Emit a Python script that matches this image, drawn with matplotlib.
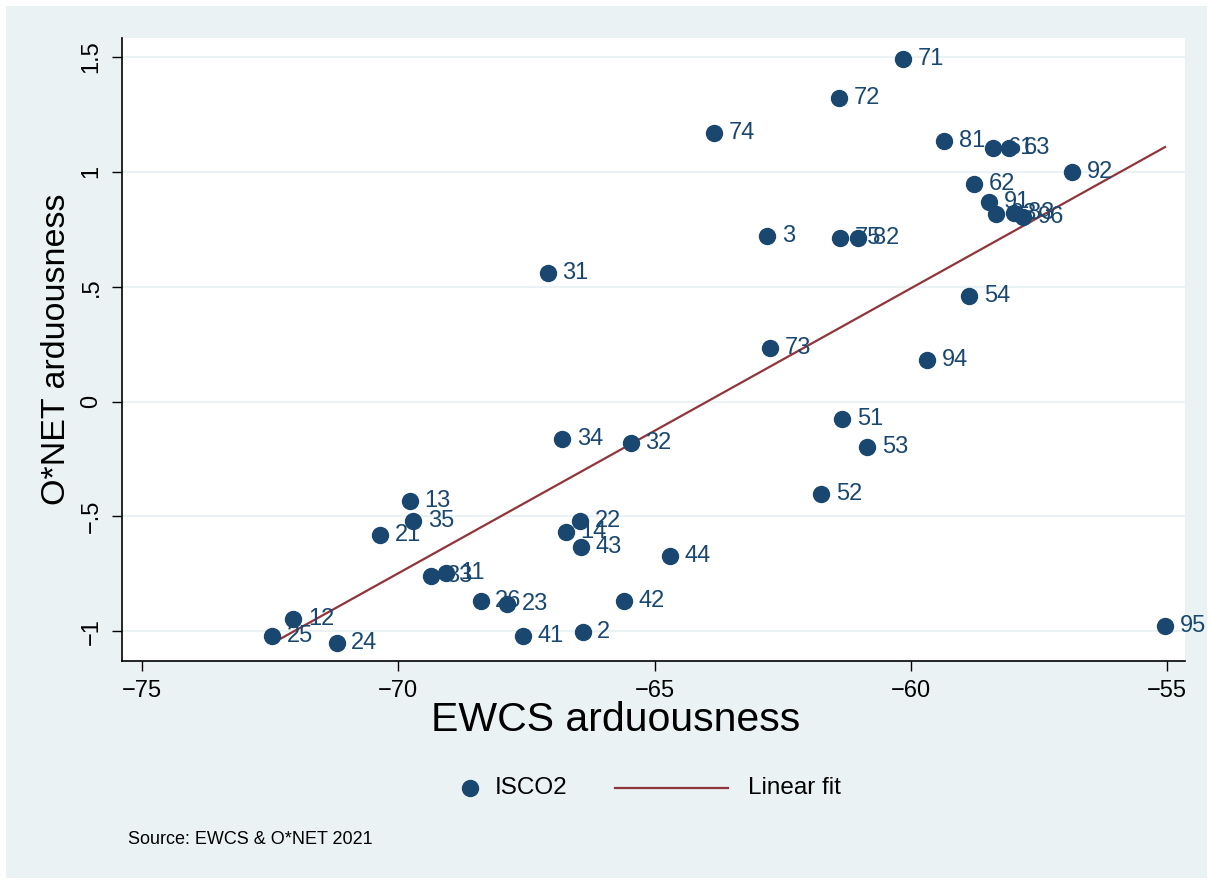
import numpy as np
import matplotlib
matplotlib.use("Agg")
import matplotlib.pyplot as plt
from matplotlib.patches import Rectangle
from matplotlib.lines import Line2D

plt.rcParams['font.family'] = ['Liberation Sans', 'DejaVu Sans']

# ISCO 2-digit codes with EWCS and O*NET arduousness
codes = ['71', '72', '74', '81', '61', '63', '92', '62', '91', '93', '83', '96',
         '3', '75', '82', '31', '54', '73', '94', '51', '53', '34', '32', '52',
         '13', '35', '21', '22', '14', '43', '44', '33', '11', '26', '23', '42',
         '12', '25', '24', '41', '2', '95']
ewcs = [-60.15, -61.40, -63.84, -59.35, -58.40, -58.08, -56.85, -58.77, -58.47, -58.34, -57.99, -57.81,
        -62.80, -61.38, -61.03, -67.08, -58.86, -62.75, -59.68, -61.34, -60.85, -66.80, -65.46, -61.75,
        -69.77, -69.71, -70.36, -66.45, -66.73, -66.43, -64.70, -69.36, -69.07, -68.39, -67.88, -65.60,
        -72.05, -72.46, -71.20, -67.57, -66.40, -55.04]
onet = [1.49, 1.32, 1.17, 1.134, 1.104, 1.104, 1.00, 0.947, 0.868, 0.816, 0.821, 0.803,
        0.72, 0.712, 0.712, 0.559, 0.459, 0.233, 0.180, -0.077, -0.199, -0.164, -0.181, -0.403,
        -0.434, -0.521, -0.582, -0.521, -0.569, -0.634, -0.673, -0.760, -0.747, -0.869, -0.882, -0.869,
        -0.948, -1.022, -1.052, -1.022, -1.004, -0.978]

xticks = [-75, -70, -65, -60, -55]
yticks = [-1, -0.5, 0, 0.5, 1, 1.5]
ytick_labels = ['\u22121', '\u2212.5', '0', '.5', '1', '1.5']

navy = '#1a476f'
maroon = '#90353b'
bg = '#eaf2f3'

W, H = 1213, 884
fig = plt.figure(figsize=(W / 100, H / 100), dpi=100, facecolor='white')
fig.add_artist(Rectangle((6 / W, 6 / H), 1 - 12 / W, 1 - 12 / H, transform=fig.transFigure,
                         facecolor=bg, edgecolor='none', zorder=-10))

ax = fig.add_axes([122 / W, 1 - 661 / H, (1185 - 122) / W, (661 - 38) / H])
ax.set_facecolor('white')

x = np.array(ewcs)
y = np.array(onet)
ax.plot(x, y, 'o', color=navy, markersize=11.5, zorder=3)
for c, xi, yi in zip(codes, x, y):
    ax.annotate(c, (xi, yi), xytext=(10.5, 0), textcoords='offset points',
                va='center', ha='left', fontsize=17, color=navy, zorder=4)

b, a = np.polyfit(x, y, 1)
xf = np.array([x.min(), x.max()])
ax.plot(xf, a + b * xf, color=maroon, lw=1.6, zorder=2)

ax.set_xlim(-75.39, -54.65)
ax.set_ylim(-1.13, 1.583)
ax.set_xticks(xticks)
ax.set_xticklabels(['\u2212%d' % abs(t) for t in xticks])
ax.set_yticks(yticks)
ax.set_yticklabels(ytick_labels, rotation=90, va='center')
ax.tick_params(axis='both', direction='out', length=7, width=1, labelsize=17, pad=7)
ax.yaxis.grid(True, color=bg, lw=1.5)
ax.set_axisbelow(True)
for s in ['top', 'right']:
    ax.spines[s].set_visible(False)
for s in ['left', 'bottom']:
    ax.spines[s].set_linewidth(1.2)

ax.set_xlabel('EWCS arduousness', fontsize=29.5, va='center')
ax.xaxis.set_label_coords((616 - 122) / 1063, -(720 - 661) / 623)
ax.set_ylabel('O*NET arduousness', fontsize=24.5, labelpad=6)

# legend
ly = 1 - 788 / H
fig.add_artist(Line2D([470 / W], [ly], marker='o', color=navy, markersize=11.5, transform=fig.transFigure))
fig.text(495 / W, ly, 'ISCO2', fontsize=17.5, va='center', ha='left')
fig.add_artist(Line2D([615 / W, 728 / W], [ly, ly], color=maroon, lw=1.6, transform=fig.transFigure))
fig.text(748 / W, ly, 'Linear fit', fontsize=17.5, va='center', ha='left')

fig.text(128 / W, 1 - 840 / H, 'Source: EWCS & O*NET 2021', fontsize=13, va='center', ha='left')

fig.savefig('out.png', dpi=100, facecolor='white')
